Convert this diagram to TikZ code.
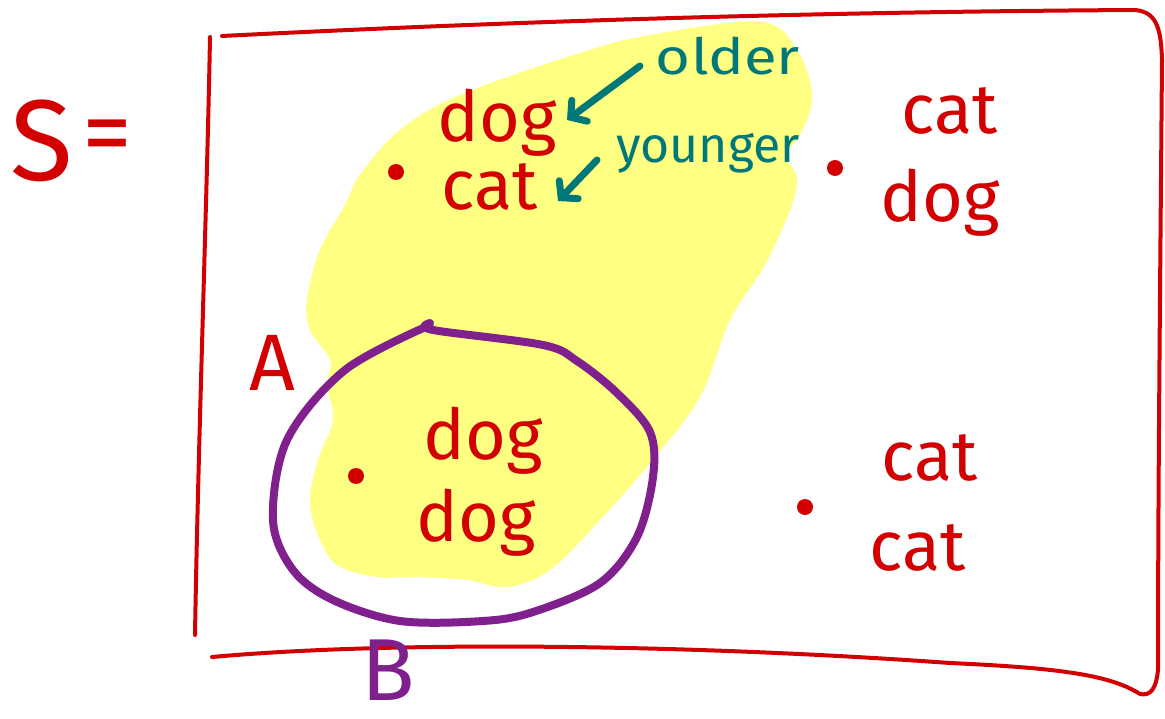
\documentclass[tikz,border=0pt]{standalone}
\usepackage{fontspec}
\setmainfont{Fira Sans}
\usetikzlibrary{arrows.meta}
\definecolor{inkred}{RGB}{210,0,0}
\definecolor{inkpurple}{RGB}{128,32,140}
\definecolor{inkteal}{RGB}{0,120,122}
\definecolor{hilite}{RGB}{255,255,130}
\begin{document}
\begin{tikzpicture}[x=1pt,y=-1pt,
  word/.style={font=\fontsize{70}{70}\selectfont, text=inkred, inner sep=0pt, anchor=base},
  note/.style={font=\fontsize{50}{50}\selectfont, text=inkteal, inner sep=0pt, anchor=base},
  boxline/.style={draw=inkred, line width=4pt, line cap=round, line join=round},
  pointer/.style={draw=inkteal, line width=7pt, line cap=round,
    -{Straight Barb[length=11pt,width=26pt,line cap=round]}},
  elem/.style={circle, fill=inkred, inner sep=0pt, minimum size=16pt}]
\useasboundingbox (0,0) rectangle (1165,719);

% yellow highlight A
\fill[hilite] plot[smooth cycle, tension=0.6] coordinates {
 (580,53) (650,35) (760,22) (797,50) (812,97) (800,135) (786,155) (797,178) (790,210)
 (765,265) (730,320) (700,397) (650,463) (600,520) (550,570) (507,587) (467,580)
 (417,577) (377,577) (337,565) (318,535) (310,500) (318,460) (333,420) (327,385)
 (330,360) (310,330) (307,300) (320,250) (345,205) (360,175) (400,130) (460,95)};

% box
\draw[boxline] (210,37) .. controls (207,200) and (198,450) .. (195,635);
\draw[boxline] (222,36) .. controls (500,22) and (800,12) .. (1135,10)
  .. controls (1155,12) and (1161,25) .. (1162,60)
  .. controls (1160,300) and (1158,500) .. (1158,670)
  .. controls (1156,690) and (1150,696) .. (1140,694)
  .. controls (1110,675) and (1060,668) .. (950,663)
  .. controls (700,645) and (400,640) .. (212,657);

% purple B
\draw[inkpurple, line width=8pt, line cap=round, line join=round]
 plot[smooth, tension=0.55] coordinates {(430,323) (433,330) (543,345) (577,361) (617,393)
 (650,432) (653,477) (637,537) (600,583) (533,612) (483,621) (400,621) (333,600) (293,570)
 (273,520) (287,440) (345,370) (430,325)};

% labels
\node[font=\fontsize{115}{115}\selectfont, text=inkred, inner sep=0pt, anchor=base] (S) at (42,181) {S};
\node[font=\fontsize{100}{100}\selectfont, text=inkred, inner sep=0pt] (eq) at (107,143) {=};
\node[font=\fontsize{80}{80}\selectfont, text=inkred, inner sep=0pt, anchor=base] (A) at (272,390) {A};
\node[font=\fontsize{88}{88}\selectfont, text=inkpurple, inner sep=0pt, anchor=base] (B) at (388,700) {B};

% elements
\node[elem] (e1) at (396,172) {};
\node[elem] (e2) at (835,168) {};
\node[elem] (e3) at (356,476) {};
\node[elem] (e4) at (805,507) {};

\node[word] (w1a) at (497,142) {dog};
\node[word] (w1b) at (490,210) {cat};
\node[word] (w2a) at (950,134) {cat};
\node[word] (w2b) at (940,222) {dog};
\node[word] (w3a) at (483,459) {dog};
\node[word] (w3b) at (476,541) {dog};
\node[word] (w4a) at (930,480) {cat};
\node[word] (w4b) at (918,570) {cat};

% notes
\node[note, xscale=1.2] (older) at (728,75) {older};
\node[note] (younger) at (708,163) {younger};
\coordinate (o1) at (640,66);
\coordinate (o2) at (567,120);
\coordinate (y1) at (597,160);
\coordinate (y2) at (558,201);
\draw[pointer] (o1) -- (o2);
\draw[pointer] (y1) -- (y2);
\end{tikzpicture}
\end{document}
